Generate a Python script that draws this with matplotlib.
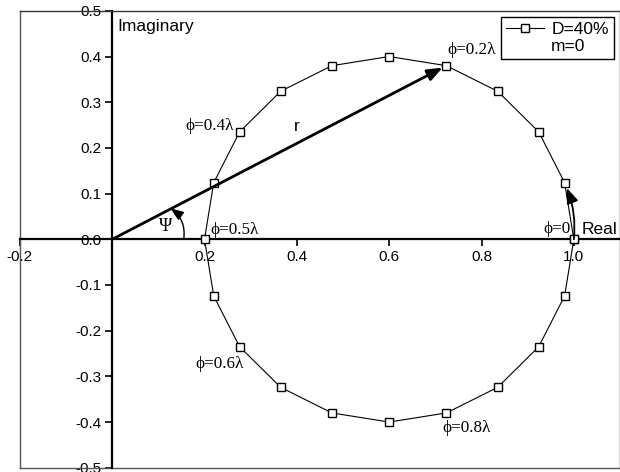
import numpy as np
import matplotlib.pyplot as plt
from matplotlib.patches import FancyArrowPatch
from matplotlib.lines import Line2D

# complex amplitude locus, one point every 0.05 lambda of phase
phi = [0.0, 0.05, 0.1, 0.15, 0.2, 0.25, 0.3, 0.35, 0.4, 0.45, 0.5,
       0.55, 0.6, 0.65, 0.7, 0.75, 0.8, 0.85, 0.9, 0.95, 1.0]
re = [1.0, 0.98, 0.924, 0.835, 0.724, 0.6, 0.476, 0.365, 0.276, 0.22, 0.2,
      0.22, 0.276, 0.365, 0.476, 0.6, 0.724, 0.835, 0.924, 0.98, 1.0]
im = [0.0, 0.124, 0.235, 0.324, 0.38, 0.4, 0.38, 0.324, 0.235, 0.124, 0.0,
      -0.124, -0.235, -0.324, -0.38, -0.4, -0.38, -0.324, -0.235, -0.124, 0.0]

xticks = [-0.2, 0.2, 0.4, 0.6, 0.8, 1.0]
yticks = [0.5, 0.4, 0.3, 0.2, 0.1, 0.0, -0.1, -0.2, -0.3, -0.4, -0.5]

serif = ['Liberation Serif', 'DejaVu Serif']
plt.rcParams['font.family'] = ['Liberation Sans', 'DejaVu Sans']

fig = plt.figure(figsize=(6.2, 4.72), dpi=100)
ax = fig.add_axes([0.032, 0.009, 0.968, 0.968])
ax.set_xlim(-0.2, 1.1)
ax.set_ylim(-0.5, 0.5)

# axes crossing at the origin
ax.spines['left'].set_position(('data', 0))
ax.spines['bottom'].set_position(('data', 0))
ax.spines['left'].set_linewidth(1.6)
ax.spines['bottom'].set_linewidth(1.6)
for s in ['top', 'right']:
    ax.spines[s].set_linewidth(1.0)
    ax.spines[s].set_color('#333333')
# outer frame, left and bottom edges
ax.plot([0, 0], [0, 1], transform=ax.transAxes, color='#555555', lw=1.0, clip_on=False)
ax.plot([0, 1], [0, 0], transform=ax.transAxes, color='#555555', lw=1.0, clip_on=False)

ax.set_xticks(xticks)
ax.set_yticks(yticks)
ax.set_xticklabels(['%.1f' % v for v in xticks])
ax.set_yticklabels(['%.1f' % v for v in yticks])
ax.tick_params(axis='both', direction='out', length=5, width=1.2, labelsize=11, pad=3)

ax.plot(re, im, color='black', lw=0.8, marker='s', markersize=5.5,
        markerfacecolor='white', markeredgecolor='black', markeredgewidth=1.0,
        zorder=4, label='D=40%')

# radius vector to phi = 0.2 lambda
ax.add_patch(FancyArrowPatch((0, 0), (re[4], im[4]), arrowstyle='-|>,head_length=9,head_width=3.5',
                             lw=2.0, color='black', shrinkA=0, shrinkB=3, zorder=5))
# phase direction
ax.add_patch(FancyArrowPatch((1.0, 0.0), (0.985, 0.112), arrowstyle='-|>,head_length=9,head_width=3.5',
                             connectionstyle='arc3,rad=0.12', lw=1.3, color='black',
                             shrinkA=0, shrinkB=0, zorder=5))
# angle psi
ax.add_patch(FancyArrowPatch((0.155, 0.0), (0.126, 0.068), arrowstyle='-|>,head_length=8,head_width=3',
                             connectionstyle='arc3,rad=0.3', lw=1.0, color='black',
                             shrinkA=0, shrinkB=0, zorder=5))

ax.text(0.011, 0.465, 'Imaginary', fontsize=12.5, va='center', ha='left')
ax.text(1.017, 0.022, 'Real', fontsize=12.5, va='center', ha='left')
ax.text(0.40, 0.247, 'r', fontsize=12.5, va='center', ha='center')
ax.text(0.115, 0.028, 'Ψ', fontsize=13, va='center', ha='center', family=serif)

ax.text(0.725, 0.415, 'ϕ=0.2λ', fontsize=12.3, va='center', ha='left', family=serif)
ax.text(0.158, 0.249, 'ϕ=0.4λ', fontsize=12.3, va='center', ha='left', family=serif)
ax.text(0.212, 0.02, 'ϕ=0.5λ', fontsize=12.3, va='center', ha='left', family=serif)
ax.text(0.18, -0.273, 'ϕ=0.6λ', fontsize=12.3, va='center', ha='left', family=serif)
ax.text(0.716, -0.413, 'ϕ=0.8λ', fontsize=12.3, va='center', ha='left', family=serif)
ax.text(0.933, 0.022, 'ϕ=0', fontsize=12.3, va='center', ha='left', family=serif)

blank = Line2D([], [], linestyle='none')
handles = [ax.get_lines()[-1], blank]
leg = ax.legend(handles, ['D=40%', 'm=0'], loc='upper right', fontsize=12.5,
                frameon=True, fancybox=False, edgecolor='black', framealpha=1,
                handlelength=2.2, handletextpad=0.4, borderpad=0.3, labelspacing=0.1,
                borderaxespad=0.35)
leg.get_frame().set_linewidth(1.0)

fig.savefig('out.png', dpi=100)
